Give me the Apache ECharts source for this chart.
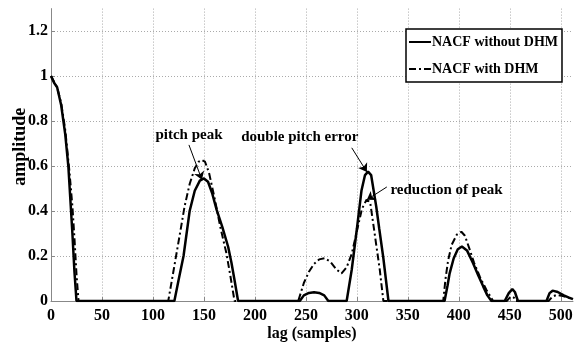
<!DOCTYPE html>
<html>
<head>
<meta charset="utf-8">
<script src="https://cdn.jsdelivr.net/npm/echarts@6/dist/echarts.min.js"></script>
<style>html,body{margin:0;padding:0;background:#fff}#c{width:576px;height:345px}</style>
</head>
<body>
<div id="c"></div>
<script>
// NACF without DHM (solid)
const lagSolid = [0,3,6,10,14,17,19,21,23,25,
  121,125,130,136,141,146,150,154,158,162.5,168,173.8,177,180,183.5,
  244,248,253,258,263,268,272,
  290,295,300,304.5,308,311,314,319,322,326,331,
  386,389,391,395,399,403,408,414,419,424,428,432,
  445,449,452.5,455,458,
  486,489,492,497,503,508,512];
const ampSolid = [1.0,0.97,0.95,0.87,0.74,0.6,0.45,0.30,0.13,0,
  0,0.09,0.2,0.4,0.49,0.535,0.545,0.53,0.48,0.405,0.33,0.24,0.17,0.093,0,
  0,0.025,0.036,0.039,0.036,0.025,0,
  0,0.14,0.32,0.49,0.56,0.575,0.56,0.42,0.32,0.19,0,
  0,0.07,0.123,0.19,0.23,0.242,0.225,0.168,0.115,0.064,0.025,0,
  0,0.035,0.053,0.04,0,
  0,0.035,0.046,0.04,0.025,0.015,0.008];
// NACF with DHM (dash-dot)
const lagDash = [0,6,10,14,18,21,23,25,27,
  115,120,126.5,131,136,141,145,148,151,155,160.8,166,172,176,180,
  242.5,248,253,258,263,268.5,274,280,285,290,295,300,305,309.5,313,316,319,322.5,326,
  384.7,387,389.5,393,398,402.5,406,410.8,415,420.6,427,433.6,
  447,450,452,454,456,
  488,492,496,502,508,512];
const ampDash = [1.0,0.95,0.88,0.76,0.58,0.42,0.28,0.12,0,
  0,0.13,0.30,0.42,0.52,0.59,0.62,0.627,0.62,0.57,0.45,0.33,0.213,0.11,0,
  0,0.08,0.13,0.165,0.185,0.19,0.175,0.14,0.123,0.15,0.21,0.31,0.41,0.45,0.44,0.346,0.25,0.138,0,
  0,0.1,0.18,0.25,0.295,0.308,0.29,0.227,0.17,0.108,0.05,0,
  0,0.015,0.02,0.015,0,
  0,0.02,0.027,0.022,0.014,0.01];
const seriesNames = ['NACF without DHM', 'NACF with DHM'];
const xTicks = [0,50,100,150,200,250,300,350,400,450,500];
const yTicks = [0,0.2,0.4,0.6,0.8,1,1.2];
// annotations (data coordinates)
const annotText = ['pitch peak', 'double pitch error', 'reduction of peak'];
const annotAt = [[135.3,0.739],[244,0.73],[388,0.494]];
const arrowFrom = [[135.3,0.694],[295,0.681],[329.4,0.507]];
const arrowTo = [[148,0.539],[309.8,0.574],[309.8,0.45]];

const FONT = 'Liberation Serif';
const zip = (a,b) => a.map((v,i)=>[v,b[i]]);
const chart = echarts.init(document.getElementById('c'), null, {renderer:'canvas'});
const txt = {fontFamily: FONT, fontWeight: 'bold', fontSize: 16, color: '#000'};
chart.setOption({
  animation: false,
  grid: {left: 51, right: 3, top: 8.6, bottom: 44, outerBoundsMode: 'none', containLabel: false},
  legend: {
    orient: 'vertical', left: 406, top: 29,
    backgroundColor: '#fff', borderColor: '#000', borderWidth: 1.5,
    padding: [6, 4, 6, 2], itemGap: 13, itemWidth: 22, itemHeight: 16,
    itemStyle: {opacity: 0},
    textStyle: Object.assign({}, txt, {fontSize: 14, padding: [0,0,0,-4]}),
    data: seriesNames
  },
  xAxis: {
    type: 'value', min: 0, max: 512, interval: 50,
    name: 'lag (samples)', nameLocation: 'middle', nameGap: 25, nameMoveOverlap: false,
    nameTextStyle: txt,
    axisLine: {show: true, onZero: false, lineStyle: {color: '#888', width: 1}},
    axisTick: {show: true, inside: true, length: 4, lineStyle: {color: '#888'}},
    axisLabel: Object.assign({}, txt, {margin: 7, showMaxLabel: false,
      formatter: v => xTicks.includes(v) ? String(v) : ''}),
    splitLine: {show: true, showMinLine: false, showMaxLine: false,
      lineStyle: {color: '#aaa', type: [1,2], width: 1}}
  },
  yAxis: {
    type: 'value', min: 0, max: 1.3, interval: 0.2,
    name: 'amplitude', nameLocation: 'middle', nameGap: 22, nameMoveOverlap: false,
    nameTextStyle: Object.assign({}, txt, {fontSize: 18, padding: [0,0,0,16]}),
    axisLine: {show: true, lineStyle: {color: '#888', width: 1}},
    axisTick: {show: true, inside: true, length: 4, lineStyle: {color: '#888'}},
    axisLabel: Object.assign({}, txt, {margin: 3, showMaxLabel: false,
      formatter: v => { const r = Math.round(v*10)/10; return yTicks.includes(r) ? String(r) : ''; }}),
    splitLine: {show: true, showMinLine: false, showMaxLine: false,
      lineStyle: {color: '#aaa', type: [1,2], width: 1}}
  },
  series: [
    {
      name: seriesNames[0], type: 'line', symbol: 'none', z: 3,
      data: zip(lagSolid, ampSolid),
      lineStyle: {color: '#000', width: 2.5},
      itemStyle: {color: '#000'},
      markLine: {
        silent: true, symbol: ['none','arrow'], symbolSize: 8,
        lineStyle: {color: '#000', width: 1, type: 'solid'},
        label: {show: false},
        data: arrowFrom.map((f,i)=>[{coord: f}, {coord: arrowTo[i]}])
      },
      markPoint: {
        silent: true, symbol: 'rect', symbolSize: 1,
        itemStyle: {color: 'rgba(0,0,0,0)'},
        label: Object.assign({show: true, position: 'inside', formatter: '{b}'}, txt, {fontSize: 15}),
        data: annotText.map((t,i)=>({name: t, coord: annotAt[i]}))
      }
    },
    {
      name: seriesNames[1], type: 'line', symbol: 'none', z: 2,
      data: zip(lagDash, ampDash),
      lineStyle: {color: '#000', width: 2, type: [7,3,2,3]},
      itemStyle: {color: '#000'}
    }
  ]
});
</script>
</body>
</html>
